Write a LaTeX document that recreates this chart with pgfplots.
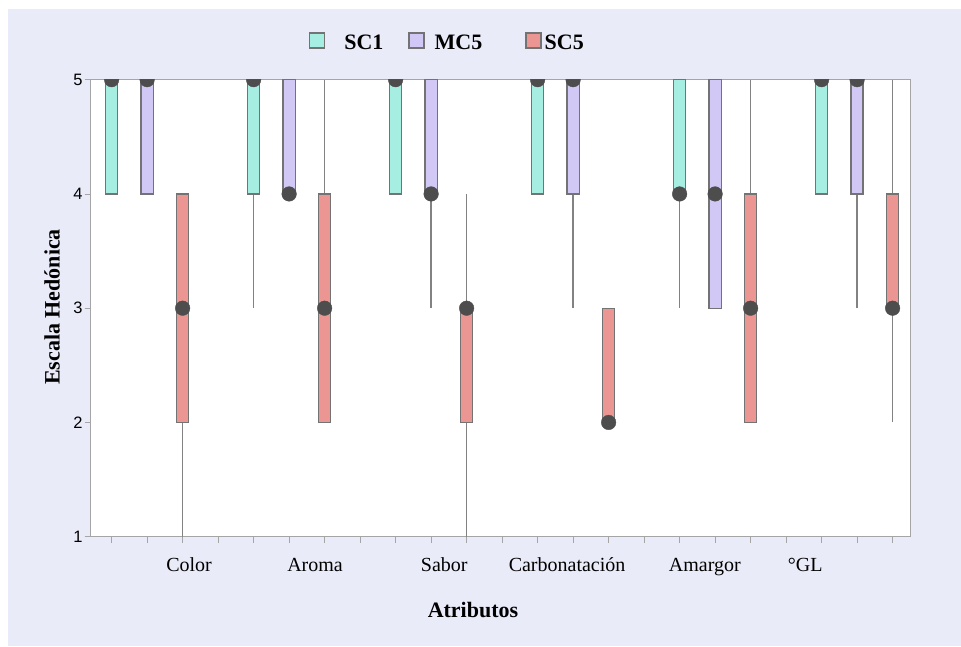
\documentclass[border=0pt]{standalone}
\usepackage{pgfplots}
\pgfplotsset{compat=1.18}
\usepgfplotslibrary{statistics}
\usepackage{fontspec}
\setmainfont{Liberation Serif}
\newfontfamily\sansf{Liberation Sans}
\definecolor{bgl}{RGB}{234,235,248}
\definecolor{cSCa}{RGB}{167,238,226}
\definecolor{cMC}{RGB}{210,200,245}
\definecolor{cSCb}{RGB}{236,150,147}
\definecolor{bord}{RGB}{115,115,115}
\definecolor{whisk}{RGB}{130,130,130}
\definecolor{frame}{RGB}{165,165,165}
\definecolor{med}{RGB}{77,77,77}
\begin{document}
\begin{tikzpicture}
\fill[white] (-90.7pt,-109.3pt) rectangle (870.3pt,536.7pt);
\fill[bgl] (-82.7pt,-109.3pt) rectangle (870.3pt,527.2pt);
\begin{axis}[
  at={(0,0)}, anchor=south west,
  scale only axis, width=820pt, height=457pt,
  xmin=0.41, xmax=23.51, ymin=1, ymax=5,
  axis background/.style={fill=white},
  axis line style={frame, line width=1pt},
  tick style={frame, line width=0.8pt},
  tick align=outside, tick pos=left,
  major tick length=6pt,
  xtick={1,...,23}, xticklabels={},
  ytick={1,2,3,4,5},
  /pgf/number format/assume math mode=true,
  yticklabel style={font=\sansf\fontsize{16.5}{18}\selectfont, inner sep=2pt},
  extra x ticks={3.18,6.73,10.37,13.83,17.71,20.54},
  extra x tick labels={Color,Aroma,Sabor,Carbonatación,Amargor,°GL},
  extra x tick style={major tick length=0pt, xticklabel style={anchor=base, yshift=-35pt, font=\fontsize{20}{24}\selectfont}},
  xlabel={Atributos},
  xlabel style={at={(axis description cs:0.4662,-0.1757)}, anchor=base, font=\fontsize{22}{26}\selectfont\bfseries},
  ylabel={Escala Hedónica},
  ylabel style={at={(axis description cs:-0.0472,0.5026)}, anchor=center, font=\fontsize{22}{26}\selectfont\bfseries},
  clip marker paths=true,
  legend columns=3,
  legend image code/.code={\draw[#1] (0pt,-5pt) rectangle (15pt,10pt);},
  legend style={at={(axis description cs:0.2662,1.0628)}, anchor=south west, draw=none, fill=none,
    font=\fontsize{22}{26}\selectfont\bfseries, inner sep=0pt, outer sep=0pt,
    nodes={inner sep=0pt}, /tikz/every even column/.style={column sep=0pt}},
  boxplot/draw direction=y,
  boxplot/box extend=0.34,
  boxplot/whisker extend=0,
  boxplot/every median/.style={draw=none},
  boxplot/every whisker/.style={draw=whisk, line width=1.3pt},
  boxplot/every box/.style={line width=1.3pt},
]
\addlegendimage{fill=cSCa, draw=bord, line width=1.3pt}
\addlegendentry{\rule{19pt}{0pt}SC1\rule{25pt}{0pt}}
\addlegendimage{fill=cMC, draw=bord, line width=1.3pt}
\addlegendentry{\rule{10pt}{0pt}MC5\rule{43pt}{0pt}}
\addlegendimage{fill=cSCb, draw=bord, line width=1.3pt}
\addlegendentry{\rule{3pt}{0pt}SC5}
% Color
\addplot[forget plot, fill=cSCa, draw=bord, boxplot prepared={draw position=1, lower whisker=4, lower quartile=4, median=5, upper quartile=5, upper whisker=5}] coordinates {};
\addplot[forget plot, fill=cMC, draw=bord, boxplot prepared={draw position=2, lower whisker=4, lower quartile=4, median=5, upper quartile=5, upper whisker=5}] coordinates {};
\addplot[forget plot, fill=cSCb, draw=bord, boxplot prepared={draw position=3, lower whisker=1, lower quartile=2, median=3, upper quartile=4, upper whisker=4}] coordinates {};
% Aroma
\addplot[forget plot, fill=cSCa, draw=bord, boxplot prepared={draw position=5, lower whisker=3, lower quartile=4, median=5, upper quartile=5, upper whisker=5}] coordinates {};
\addplot[forget plot, fill=cMC, draw=bord, boxplot prepared={draw position=6, lower whisker=4, lower quartile=4, median=4, upper quartile=5, upper whisker=5}] coordinates {};
\addplot[forget plot, fill=cSCb, draw=bord, boxplot prepared={draw position=7, lower whisker=2, lower quartile=2, median=3, upper quartile=4, upper whisker=5}] coordinates {};
% Sabor
\addplot[forget plot, fill=cSCa, draw=bord, boxplot prepared={draw position=9, lower whisker=4, lower quartile=4, median=5, upper quartile=5, upper whisker=5}] coordinates {};
\addplot[forget plot, fill=cMC, draw=bord, boxplot prepared={draw position=10, lower whisker=3, lower quartile=4, median=4, upper quartile=5, upper whisker=5}] coordinates {};
\addplot[forget plot, fill=cSCb, draw=bord, boxplot prepared={draw position=11, lower whisker=1, lower quartile=2, median=3, upper quartile=3, upper whisker=4}] coordinates {};
% Carbonatacion
\addplot[forget plot, fill=cSCa, draw=bord, boxplot prepared={draw position=13, lower whisker=4, lower quartile=4, median=5, upper quartile=5, upper whisker=5}] coordinates {};
\addplot[forget plot, fill=cMC, draw=bord, boxplot prepared={draw position=14, lower whisker=3, lower quartile=4, median=5, upper quartile=5, upper whisker=5}] coordinates {};
\addplot[forget plot, fill=cSCb, draw=bord, boxplot prepared={draw position=15, lower whisker=2, lower quartile=2, median=2, upper quartile=3, upper whisker=3}] coordinates {};
% Amargor
\addplot[forget plot, fill=cSCa, draw=bord, boxplot prepared={draw position=17, lower whisker=3, lower quartile=4, median=4, upper quartile=5, upper whisker=5}] coordinates {};
\addplot[forget plot, fill=cMC, draw=bord, boxplot prepared={draw position=18, lower whisker=3, lower quartile=3, median=4, upper quartile=5, upper whisker=5}] coordinates {};
\addplot[forget plot, fill=cSCb, draw=bord, boxplot prepared={draw position=19, lower whisker=2, lower quartile=2, median=3, upper quartile=4, upper whisker=5}] coordinates {};
% GL
\addplot[forget plot, fill=cSCa, draw=bord, boxplot prepared={draw position=21, lower whisker=4, lower quartile=4, median=5, upper quartile=5, upper whisker=5}] coordinates {};
\addplot[forget plot, fill=cMC, draw=bord, boxplot prepared={draw position=22, lower whisker=3, lower quartile=4, median=5, upper quartile=5, upper whisker=5}] coordinates {};
\addplot[forget plot, fill=cSCb, draw=bord, boxplot prepared={draw position=23, lower whisker=2, lower quartile=3, median=3, upper quartile=4, upper whisker=5}] coordinates {};
% medians
\addplot[forget plot, only marks, mark=*, mark size=7.3pt, color=med] coordinates {
(1,5) (2,5) (3,3) (5,5) (6,4) (7,3) (9,5) (10,4) (11,3)
(13,5) (14,5) (15,2) (17,4) (18,4) (19,3) (21,5) (22,5) (23,3)};
\end{axis}
\end{tikzpicture}
\end{document}
